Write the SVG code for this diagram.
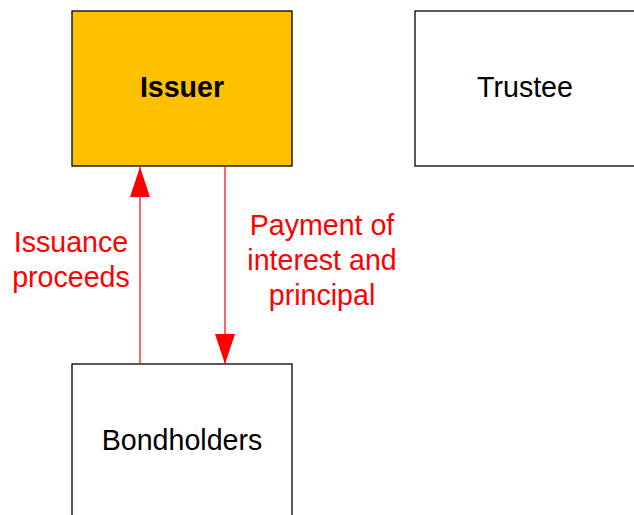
<svg xmlns="http://www.w3.org/2000/svg" width="634" height="515" viewBox="0 0 634 515">
<style>
.box{stroke:#000;stroke-width:1.3}
.t{font-family:"Liberation Sans",Arial,sans-serif;font-size:28.6px;text-anchor:middle}
.r{fill:#ff0000}
.conn{stroke:#ff0000;stroke-width:1.2;fill:none}
</style>
<defs>
<marker id="ah" markerWidth="30" markerHeight="20" refX="30" refY="10" orient="auto" markerUnits="userSpaceOnUse" viewBox="0 0 30 20">
<path d="M0,0 L30,10 L0,20 Z" fill="#ff0000"/>
</marker>
</defs>
<rect width="634" height="515" fill="#fff"/>
<g id="issuer">
<rect class="box" x="72" y="11" width="220" height="155" fill="#ffc000"/>
<text class="t" x="182" y="97" font-weight="bold">Issuer</text>
</g>
<g id="trustee">
<rect class="box" x="415" y="11" width="230" height="155" fill="#fff"/>
<text class="t" x="525" y="97">Trustee</text>
</g>
<g id="bondholders">
<rect class="box" x="72" y="364" width="220" height="160" fill="#fff"/>
<text class="t" x="182" y="450">Bondholders</text>
</g>
<g id="connectors">
<line class="conn" x1="140" y1="364" x2="140" y2="167" marker-end="url(#ah)"/>
<line class="conn" x1="225" y1="166" x2="225" y2="364" marker-end="url(#ah)"/>
<text class="t r" x="71" y="252">Issuance</text>
<text class="t r" x="71" y="287">proceeds</text>
<text class="t r" x="322" y="235">Payment of</text>
<text class="t r" x="322" y="270">interest and</text>
<text class="t r" x="322" y="305">principal</text>
</g>
</svg>
